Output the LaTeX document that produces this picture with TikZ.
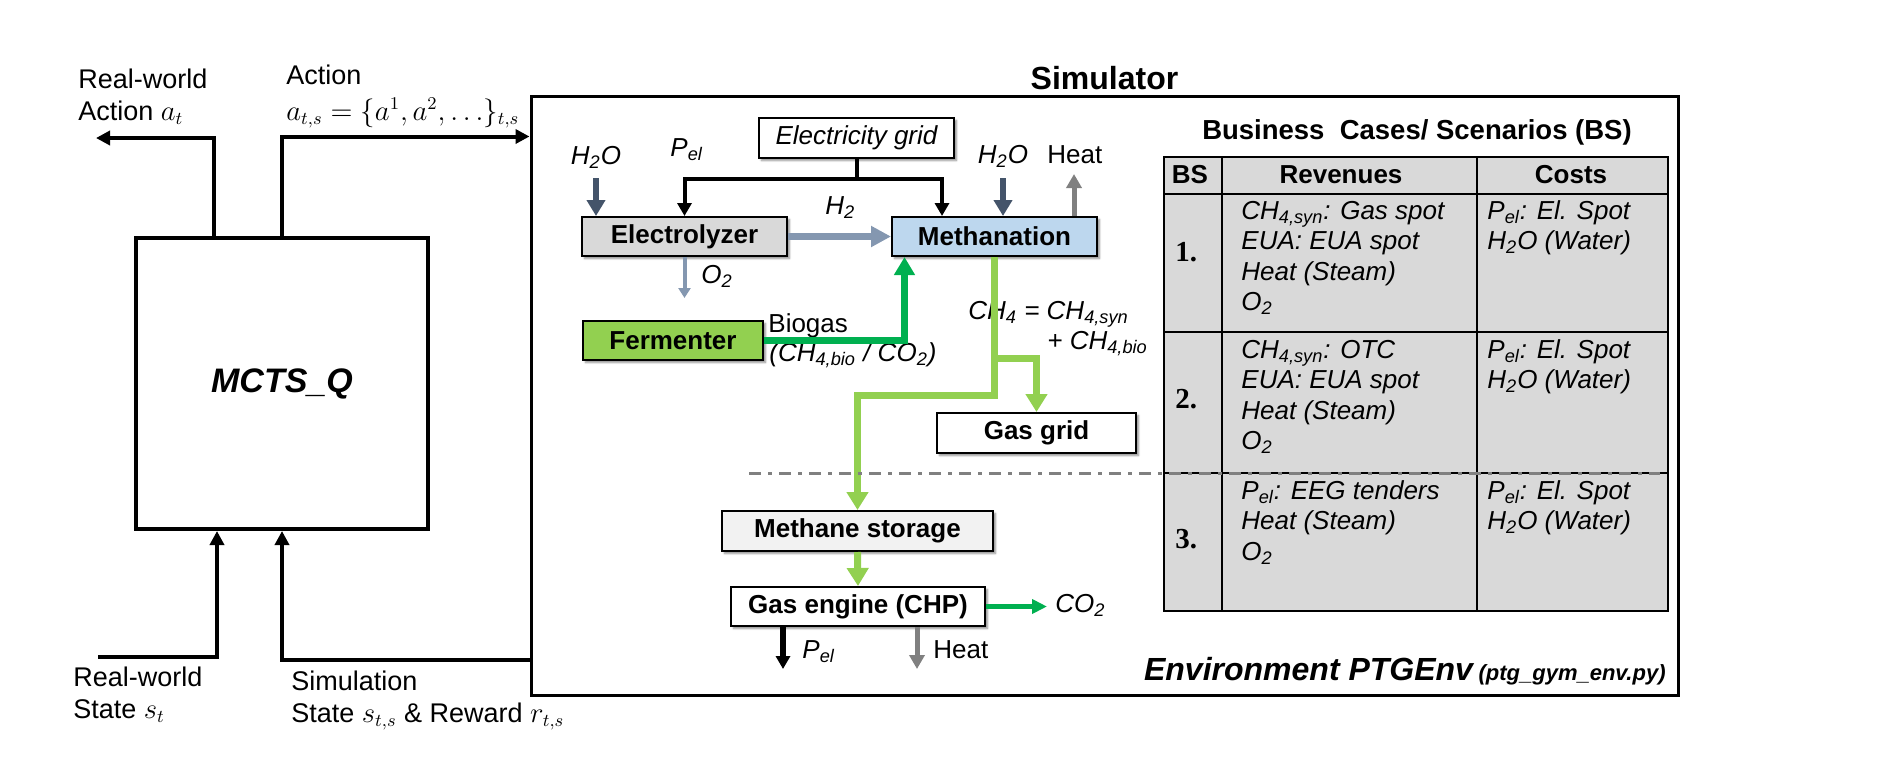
\documentclass[tikz,border=0pt]{standalone}
\usepackage{fontspec}
\setmainfont{Liberation Sans}
\newfontfamily\serifnum{Liberation Serif}
\usepackage{tikz}
\usetikzlibrary{calc, arrows.meta, shadows.blur}
\definecolor{SlateInk}{RGB}{68, 84, 106}
\definecolor{SteelMist}{RGB}{132, 151, 176}
\definecolor{HeatGrey}{RGB}{128, 128, 128}
\definecolor{BioGreen}{RGB}{0, 176, 80}
\definecolor{LimeGreen}{RGB}{146, 208, 80}
\definecolor{BoxGrey}{RGB}{217, 217, 217}
\definecolor{BoxBlue}{RGB}{189, 215, 238}
\definecolor{StoreGrey}{RGB}{242, 242, 242}
\newcommand{\chemsub}[1]{\textsubscript{#1}}

\begin{document}
\begin{tikzpicture}[x=0.5pt, y=-0.5pt,
    sidetxt/.style={inner sep=0pt, anchor=base west, font=\fontsize{13.5}{16}\selectfont},
    txt/.style={inner sep=0pt, anchor=base west, font=\fontsize{13}{15.25}\selectfont},
    itxt/.style={inner sep=0pt, anchor=base west, font=\fontsize{13}{15.25}\selectfont\itshape},
    unit/.style={draw, fill=white, line width=1pt, inner sep=0pt,
        font=\fontsize{13}{15}\selectfont\bfseries,
        blur shadow={shadow xshift=1.2pt, shadow yshift=-1.2pt, shadow blur radius=1pt, shadow opacity=45}},
    hdr/.style={inner sep=0pt, font=\fontsize{13}{15}\selectfont\bfseries},
    cell/.style={inner sep=0pt, anchor=base west, align=left, font=\fontsize{13}{15.25}\selectfont\itshape},
    num/.style={inner sep=0pt, anchor=west, font=\serifnum\fontsize{14.5}{16}\selectfont\bfseries},
    ctrl/.style={line width=2pt, -{Triangle[length=7pt, width=7pt]}},
    feed/.style={line width=2pt, -{Triangle[length=6.5pt, width=7pt]}},
    water/.style={SlateInk, line width=3pt, -{Triangle[length=8pt, width=9pt]}},
    hyd/.style={SteelMist, line width=3.5pt, -{Triangle[length=10pt, width=10pt]}},
    oxy/.style={SteelMist, line width=2pt, -{Triangle[length=5pt, width=6pt]}},
    heat/.style={HeatGrey, line width=2.5pt, -{Triangle[length=7pt, width=7.5pt]}},
    biogas/.style={BioGreen, line width=3.5pt, -{Triangle[length=9pt, width=10pt]}},
    methane/.style={LimeGreen, line width=3.5pt, -{Triangle[length=9pt, width=10.5pt]}},
    power/.style={line width=2.75pt, -{Triangle[length=6.5pt, width=7pt]}},
    exhaust/.style={BioGreen, line width=2.25pt, -{Triangle[length=7.5pt, width=7pt]}}]
    \useasboundingbox (0,0) rectangle (1890,756);

    % Agent
    \node[draw, line width=2pt, minimum width=146pt, minimum height=145.5pt, inner sep=0pt,
        font=\fontsize{17}{20}\selectfont\bfseries\itshape] (mcts) at (282,383.5) {MCTS\_Q};
    \node[sidetxt] (rwactA) at (78,88) {Real-world};
    \node[sidetxt] (rwactB) at (78,120) {Action $a_t$};
    \node[sidetxt] (simactA) at (286,84) {Action};
    \node[sidetxt] (simactB) at (286,120) {$a_{t,s} = \{a^1, a^2, \ldots\}_{t,s}$};
    \node[sidetxt] (rwstA) at (73,686) {Real-world};
    \node[sidetxt] (rwstB) at (73,718) {State $s_t$};
    \node[sidetxt] (simstA) at (291,690) {Simulation};
    \node[sidetxt] (simstB) at (291,722) {State $s_{t,s}$ \& Reward $r_{t,s}$};

    % Simulator
    \node[draw, line width=1.5pt, minimum width=573.5pt, minimum height=299.5pt, inner sep=0pt] (sim) at (1104.5,395.5) {};
    \node[inner sep=0pt, anchor=base, font=\fontsize{16}{18}\selectfont\bfseries] (simlbl) at (1104.5,89) {Simulator};
    \node[inner sep=0pt, anchor=base east] (envlbl) at (1666,680)
        {{\fontsize{16}{18}\selectfont\bfseries\itshape Environment PTGEnv} {\fontsize{11}{13}\selectfont\bfseries\itshape (ptg\_gym\_env.py)}};

    \coordinate (rwout) at (96,138);
    \coordinate (rwin) at (98,657);
    \draw[ctrl] ([xshift=-34pt]mcts.north) |- (rwout);
    \draw[ctrl] (mcts.north) |- ([yshift=-21pt]sim.north west);
    \draw[ctrl] (rwin) -| ([xshift=-32.5pt]mcts.south);
    \draw[ctrl] ([yshift=18.5pt]sim.south west) -| (mcts.south);

    % Plant
    \node[unit, font=\fontsize{13}{15}\selectfont\itshape, minimum width=97.5pt, minimum height=20pt] (elgrid) at (856.5,138) {Electricity grid};
    \node[unit, fill=BoxGrey, minimum width=102.5pt, minimum height=19.5pt] (elyzer) at (684.5,236.5) {Electrolyzer};
    \node[unit, fill=BoxBlue, minimum width=102.5pt, minimum height=19.5pt] (methan) at (994.5,236.5) {Methanation};
    \node[unit, fill=LimeGreen, minimum width=90pt, minimum height=19.5pt] (ferment) at (673,340.5) {Fermenter};
    \node[unit, minimum width=99.5pt, minimum height=20pt] (gasgrid) at (1036.5,433) {Gas grid};
    \node[unit, fill=StoreGrey, minimum width=135.5pt, minimum height=20pt] (storage) at (857.5,531) {Methane storage};
    \node[unit, minimum width=127pt, minimum height=19.5pt] (engine) at (858,606.5) {Gas engine (CHP)};

    \node[itxt, anchor=base] (h2oL) at (596,164) {H\chemsub{2}O};
    \node[itxt] (pelin) at (670,156) {P\chemsub{el}};
    \node[itxt] (h2lbl) at (825,214) {H\chemsub{2}};
    \node[itxt] (o2lbl) at (701,283) {O\chemsub{2}};
    \node[txt] (biolbl) at (768,332) {Biogas};
    \node[itxt] (biomix) at (769,361) {(CH\chemsub{4,bio} / CO\chemsub{2})};
    \node[itxt, anchor=base] (h2oR) at (1003,163) {H\chemsub{2}O};
    \node[txt] (heatR) at (1047,163) {Heat};
    \node[itxt] (ch4lbl) at (968,319) {CH\chemsub{4} = CH\chemsub{4,syn}};
    \node[itxt] (ch4bio) at (1047,349) {+ CH\chemsub{4,bio}};
    \node[itxt] (pelout) at (802,658) {P\chemsub{el}};
    \node[txt] (heatout) at (933,658) {Heat};
    \node[itxt] (co2lbl) at (1055,612) {CO\chemsub{2}};

    \coordinate (gridj) at (856.5,179);
    \coordinate (h2oLtop) at (596,178);
    \coordinate (h2oRtop) at (1003,178);
    \coordinate (ch4bend) at (994.5,395);
    \coordinate (ch4split) at (994.5,358);
    \draw[line width=2pt] (elgrid.south) -- (gridj);
    \draw[feed] (gridj) -| (elyzer.north);
    \draw[feed] (gridj) -| ([xshift=-26.25pt]methan.north);
    \draw[water] (h2oLtop) -- (h2oLtop |- elyzer.north);
    \draw[water] (h2oRtop) -- (h2oRtop |- methan.north);
    \draw[heat] ([xshift=39.75pt]methan.north) -- ++(0,-42);
    \draw[hyd] (elyzer.east) -- (methan.west);
    \draw[oxy] (elyzer.south) -- ++(0,41);
    \draw[biogas] (ferment.east) -| ([xshift=-45pt]methan.south);
    \draw[methane] (methan.south) -- (ch4bend) -| (storage.north);
    \draw[methane] (ch4split) -| (gasgrid.north);
    \draw[methane] (storage.south) -- (engine.north);
    \draw[power] ([xshift=-37.5pt]engine.south) -- ++(0,42);
    \draw[heat] ([xshift=29.5pt]engine.south) -- ++(0,42);
    \draw[exhaust] (engine.east) -- ++(61,0);

    % Business cases (cells are placed at the baseline of their last line)
    \node[inner sep=0pt, font=\fontsize{13.75}{16}\selectfont\bfseries] (bstitle) at (1417,132) {Business~ Cases/ Scenarios (BS)};
    \fill[BoxGrey] (1164,157) rectangle (1668,611);
    \draw[line width=0.7pt] (1164,157) rectangle (1668,611);
    \draw[line width=0.7pt] (1222,157) -- (1222,611) (1477,157) -- (1477,611);
    \draw[line width=0.7pt] (1164,194) -- (1668,194) (1164,332) -- (1668,332) (1164,473) -- (1668,473);
    \node[hdr] (bshead) at (1190,175) {BS};
    \node[hdr] (revhead) at (1341,175) {Revenues};
    \node[hdr] (costhead) at (1571,175) {Costs};
    \node[num] (bsone) at (1175,252) {1.};
    \node[num] (bstwo) at (1175,399) {2.};
    \node[num] (bsthree) at (1175,539) {3.};
    \node[cell] (revone) at (1241,310.5) {CH\chemsub{4,syn}: Gas spot\\EUA: EUA spot\\Heat (Steam)\\O\chemsub{2}};
    \node[cell] (revtwo) at (1241,449.5) {CH\chemsub{4,syn}: OTC\\EUA: EUA spot\\Heat (Steam)\\O\chemsub{2}};
    \node[cell] (revthree) at (1241,560) {P\chemsub{el}: EEG tenders\\Heat (Steam)\\O\chemsub{2}};
    \node[cell] (costone) at (1487,249.5) {P\chemsub{el}: El. Spot\\H\chemsub{2}O (Water)};
    \node[cell] (costtwo) at (1487,388.5) {P\chemsub{el}: El. Spot\\H\chemsub{2}O (Water)};
    \node[cell] (costthree) at (1487,529.5) {P\chemsub{el}: El. Spot\\H\chemsub{2}O (Water)};
    \draw[HeatGrey, line width=1.5pt, dash pattern=on 6pt off 3.5pt on 2pt off 3.5pt] (749,473) -- (1660,473);
\end{tikzpicture}
\end{document}
